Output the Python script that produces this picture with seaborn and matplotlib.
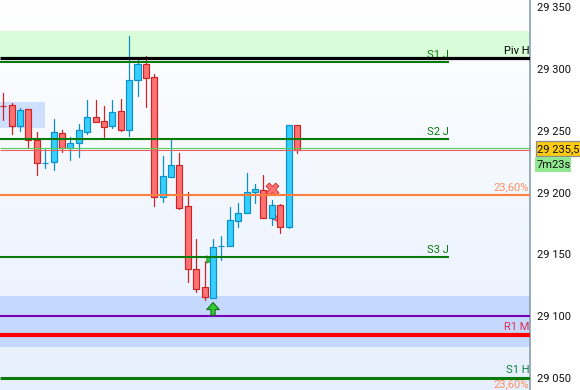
import numpy as np
import pandas as pd
import matplotlib
matplotlib.use("Agg")
import matplotlib.pyplot as plt
import seaborn as sns

BASE = 29000
opens = [270, 270.5, 254.1, 267.3, 242.2, 223.6, 225, 247.9, 235.7, 240.3, 249.2, 260.8, 257.6, 254.1, 265.7, 250.8,
         291.3, 303.9, 293.1, 196.1, 212.8, 222, 188.8, 137.8, 123.3, 114.9, 156.6, 157, 177.2, 183.7, 200.1, 201.7,
         179.4, 189.6, 172, 254.6]
highs = [280.2, 272.1, 268.4, 267.3, 249, 235.2, 259.5, 250.3, 244.9, 255.4, 274.8, 274.8, 269.9, 274.8, 275.6, 326.6,
         307.2, 310.4, 295.8, 229.5, 242.5, 231.7, 200.4, 162.4, 144.6, 162.4, 164.8, 188.2, 191.5, 215.7, 206.8, 214.1,
         193.9, 190.7, 254.6, 254.6]
lows = [258.6, 247.3, 249.8, 236, 214.2, 219.8, 218.2, 232.8, 226.3, 228.7, 247.3, 257.3, 244.9, 252.2, 249.8, 245.7,
        278.1, 269.2, 189.1, 192.4, 212.8, 186.7, 127.6, 119.5, 113.1, 114.9, 145.4, 157, 172, 183.4, 191.5, 179.4,
        173.7, 167.2, 171.3, 232.2]
closes = [269.6, 254.1, 266.5, 242.2, 224.2, 224, 248.7, 235.7, 239.8, 250.3, 260.8, 257.3, 253.3, 264.9, 250.8, 290.7,
          303.9, 292.9, 196.1, 213.1, 222, 187.8, 138.4, 122.2, 115.8, 155.6, 157, 177.5, 183.1, 200.1, 202.5, 179.6,
          189.6, 172.4, 254.6, 234.3]

y_ticks = [29050, 29100, 29150, 29200, 29250, 29300, 29350]
y_tick_labels = ["29 050", "29 100", "29 150", "29 200", "29 250", "29 300", "29 350"]

piv_h = 29308.4
s1_j = 29305.5
s2_j = 29243.3
s3_j = 29147.8
last_green = 29236.4
last_red = 29234.2
fib_236 = 29198.4
purple_lvl = 29100
r1_m = 29084.8
s1_h = 29050

sns.set_theme(style="white")
plt.rcParams["font.family"] = ["Roboto", "DejaVu Sans"]

o = np.array(opens) + BASE
h = np.array(highs) + BASE
l = np.array(lows) + BASE
c = np.array(closes) + BASE
idx = np.arange(len(o))
up = c >= o

RED_E, RED_F = "#cc2424", "#ff7272"
BLU_E, BLU_F = "#0a90c8", "#36cfff"

fig = plt.figure(figsize=(5.8, 3.9), dpi=100)
ax = fig.add_axes([0, 0, 530 / 580, 1])
x0, x1 = -0.39, 62.78
y0, y1 = 29040.3, 29355.7

# background gradient
grad = np.linspace(0, 1, 256).reshape(-1, 1, 1)
top = np.array([1.0, 1.0, 1.0]).reshape(1, 1, 3)
bot = np.array([0.905, 0.94, 0.995]).reshape(1, 1, 3)
img = top + (bot - top) * grad
ax.imshow(img, extent=[x0, x1, y0, y1], aspect="auto", origin="upper", zorder=0)

# zones
ax.axhspan(piv_h, 29330.6, color="#d8fdd8", lw=0, zorder=1)
ax.axhspan(29075.2, 29116, color="#c5d8ff", lw=0, zorder=1)
ax.fill_between([x0, 5], 29252.2, 29273.2, color="#cfdfff", lw=0, zorder=1)

# markers behind the candles
sns.scatterplot(x=[24.6], y=[29146], marker=">", s=28, color="#33cc33", edgecolor="#1a7a1a",
                linewidth=0.6, ax=ax, zorder=2, legend=False)
sns.scatterplot(x=[32.5], y=[29179.4], marker="<", s=50, color=RED_F, edgecolor=RED_E,
                linewidth=0.6, ax=ax, zorder=2, legend=False)
sns.scatterplot(x=[32], y=[29202.8], marker="X", s=85, color=RED_F, edgecolor=RED_E,
                linewidth=0.6, ax=ax, zorder=2, legend=False)

# wicks
wicks = pd.DataFrame({
    "bar": np.r_[idx, idx],
    "price": np.r_[l, h],
    "dir": np.r_[up, up],
})
sns.lineplot(data=wicks, x="bar", y="price", units="bar", hue="dir", estimator=None, sort=False,
             palette={True: BLU_E, False: RED_E}, lw=0.9, ax=ax, legend=False, zorder=3)

# bodies
bottoms = np.minimum(o, c)
heights = np.maximum(np.abs(c - o), 0.5)
ax.bar(idx, heights, bottom=bottoms, width=0.72,
       color=[BLU_F if u else RED_F for u in up],
       edgecolor=[BLU_E if u else RED_E for u in up], linewidth=0.85, zorder=4)

# levels
GREEN = "#0a7a0a"
xs = 53.1
kw = dict(zorder=6)
ax.hlines(piv_h, x0, x1, color="black", lw=2.3, **kw)
ax.hlines(s1_j, x0, xs, color=GREEN, lw=1.5, **kw)
ax.hlines(s2_j, x0, xs, color=GREEN, lw=1.5, **kw)
ax.hlines(s3_j, x0, xs, color=GREEN, lw=1.5, **kw)
ax.hlines(last_green, x0, x1, color="#55d055", lw=0.8, **kw)
ax.hlines(last_red, x0, x1, color="#e86060", lw=0.8, **kw)
ax.hlines(fib_236, x0, x1, color="#ff7f3f", lw=1.5, **kw)
ax.hlines(purple_lvl, x0, x1, color="#7a00c0", lw=1.5, **kw)
ax.hlines(r1_m, x0, x1, color="#ff0000", lw=3.0, **kw)
ax.hlines(s1_h, x0, x1, color=GREEN, lw=2.2, **kw)

# up arrow
ax.annotate("", xy=(25, 29111), xytext=(25, 29100.8),
            arrowprops=dict(width=3, headwidth=9, headlength=5, fc="#33cc33", ec="#167016", lw=0.8),
            zorder=7)

# level labels
fs = 8.0
ax.text(xs, s1_j + 1.8, "S1 J", ha="right", va="bottom", color=GREEN, fontsize=fs, zorder=5)
ax.text(xs, s2_j + 1.8, "S2 J", ha="right", va="bottom", color=GREEN, fontsize=fs, zorder=5)
ax.text(xs, s3_j + 1.8, "S3 J", ha="right", va="bottom", color=GREEN, fontsize=fs, zorder=5)
ax.text(x1 - 0.1, piv_h + 1.8, "Piv H", ha="right", va="bottom", color="black", fontsize=fs, zorder=5)
ax.text(x1 - 0.15, fib_236 + 1.8, "23,60%", ha="right", va="bottom", color="#ff9060", fontsize=fs, zorder=5)
ax.text(x1 - 0.1, r1_m + 2.6, "R1 M", ha="right", va="bottom", color="#e0304a", fontsize=fs, zorder=5)
ax.text(x1 - 0.1, s1_h + 2.4, "S1 H", ha="right", va="bottom", color="#108040", fontsize=fs, zorder=5)
ax.text(x1 - 0.15, 29040.8, "23,60%", ha="right", va="bottom", color="#ff9060", fontsize=fs, zorder=5)

# axes
ax.set_xlim(x0, x1)
ax.set_ylim(y0, y1)
ax.set_xticks([])
ax.yaxis.tick_right()
ax.set_yticks(y_ticks)
ax.set_yticklabels(y_tick_labels, fontsize=8.0, color="#101010")
ax.tick_params(axis="y", right=True, length=3.6, width=0.9, color="#7f98a8", pad=1.6)
ax.set_xlabel("")
ax.set_ylabel("")
sns.despine(ax=ax, left=True, top=True, bottom=True, right=False)
ax.spines["right"].set_color("#7f98a8")
ax.spines["right"].set_linewidth(1.1)

# price and timer tags
def px(x, y):
    return x / 580, 1 - y / 390

tag = plt.Rectangle(px(535.5, 156), 45 / 580, 15 / 390, transform=fig.transFigure, fc="#ffcc14", ec="#8c8c8c", lw=0.9)
fig.add_artist(tag)
fig.text(*px(537, 149), "29 235,5", fontsize=8.0, va="center", ha="left", color="#101010")
timer = plt.Rectangle(px(535, 172), 36 / 580, 15 / 390, transform=fig.transFigure, fc="#90e890", ec="none")
fig.add_artist(timer)
fig.text(*px(537, 164.5), "7m23s", fontsize=8.0, va="center", ha="left", color="#101010")

fig.savefig("out.png", dpi=100)
